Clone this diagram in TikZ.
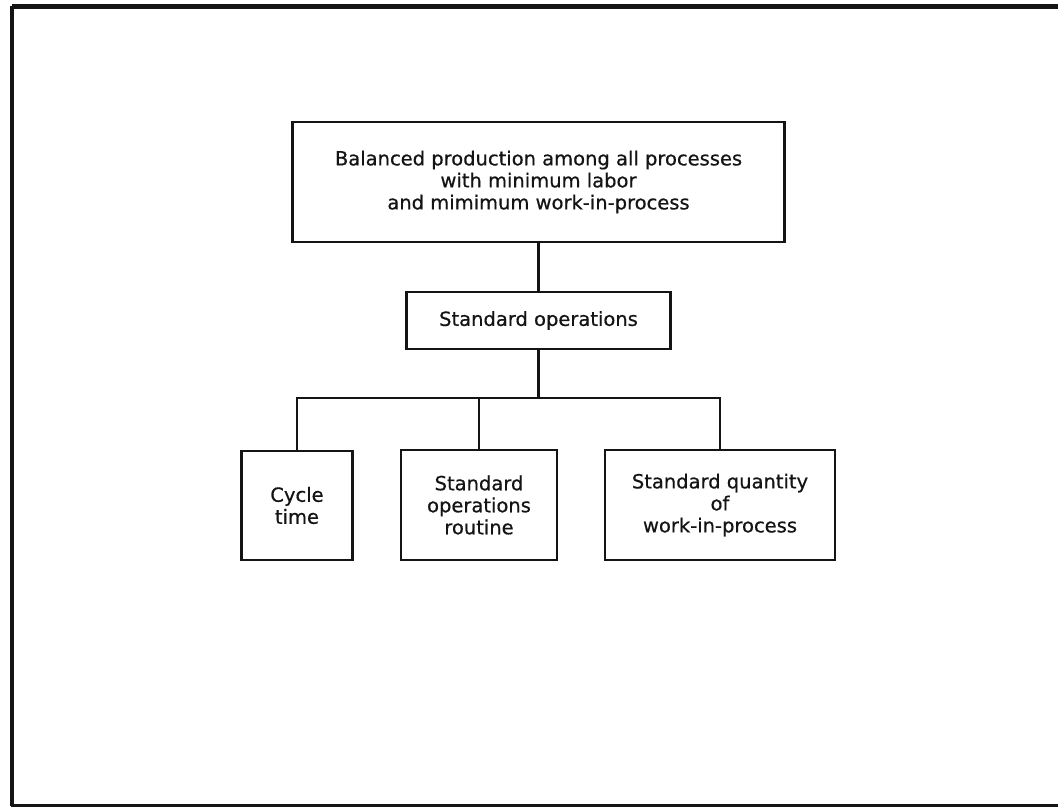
\documentclass[tikz,border=0pt]{standalone}
\usepackage{fontspec}
\setmainfont[FakeBold=0.6]{DejaVu Sans}
\begin{document}
\begin{tikzpicture}[x=1pt,y=-1pt,
  box/.style={draw=black!92, line width=2.4pt, rectangle, align=center,
    inner sep=0pt, font=\fontsize{19.5}{22}\selectfont, text=black!92},
  link/.style={draw=black!92, line width=2.6pt},
  frame/.style={draw=black!92}]
\useasboundingbox (0,0) rectangle (1058,808);
\fill[white] (0,0) rectangle (1058,808);

% outer frame (top, left and bottom edges)
\draw[frame, line width=5pt] (12,7) -- (1058,7);
\draw[frame, line width=4pt] (12,6) -- (12,806);
\draw[frame, line width=3pt] (11,805) -- (1058,805);

% boxes
\node[box, minimum width=492pt, minimum height=120pt] (goal) at (538.5,182)
  {Balanced production among all processes\\with minimum labor\\and mimimum work-in-process};
\node[box, minimum width=264pt, minimum height=57pt] (std) at (538.5,320.5)
  {Standard operations};
\node[box, minimum width=111pt, minimum height=109pt] (cyc) at (297,505.5)
  {Cycle\\time};
\node[box, minimum width=156pt, minimum height=110pt] (rout) at (479,505)
  {Standard\\operations\\routine};
\node[box, minimum width=230pt, minimum height=110pt] (qty) at (720,505)
  {Standard quantity\\of\\work-in-process};

% connectors
\coordinate (bar) at (538.5,398);
\draw[link] (goal.south) -- (std.north);
\draw[link] (std.south) -- (bar);
\draw[link] (cyc.north) |- (bar) -| (qty.north);
\draw[link] (rout.north) -- (rout.north |- bar);
\end{tikzpicture}
\end{document}
